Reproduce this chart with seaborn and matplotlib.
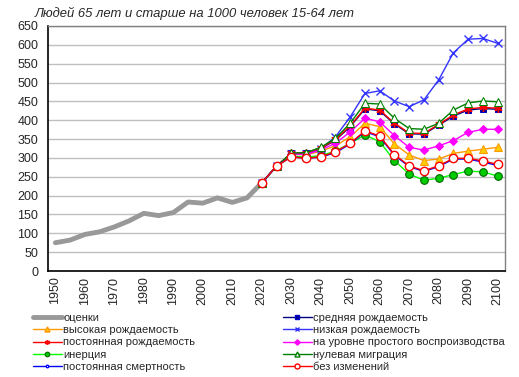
import seaborn as sns
import matplotlib
matplotlib.use('Agg')
import matplotlib.pyplot as plt
from matplotlib.lines import Line2D

sns.set_style('white')
plt.rcParams['font.family'] = ['Liberation Sans', 'DejaVu Sans']

hist_years = list(range(1950, 2021, 5))
hist_vals = [75, 82, 97, 104, 117, 133, 153, 147, 155, 183, 180, 194, 182, 194, 234]

proj_years = list(range(2020, 2101, 5))
medium = [234, 278, 312, 312, 325, 347, 383, 430, 425, 390, 364, 363, 387, 411, 427, 431, 429]
high = [234, 278, 310, 308, 318, 332, 356, 392, 383, 337, 308, 293, 297, 312, 318, 323, 328]
low = [234, 278, 310, 311, 324, 356, 409, 471, 478, 451, 436, 454, 507, 579, 615, 617, 604]
const_fert = [234, 278, 312, 313, 326, 349, 385, 432, 427, 392, 366, 365, 389, 414, 430, 434, 432]
replacement = [234, 278, 311, 309, 321, 339, 369, 405, 396, 359, 328, 321, 332, 346, 368, 376, 376]
inertia = [234, 278, 305, 302, 306, 318, 339, 361, 343, 293, 257, 241, 246, 256, 265, 263, 252]
zero_migr = [234, 278, 313, 314, 328, 352, 392, 445, 443, 405, 378, 376, 392, 427, 446, 451, 449]
const_mort = [234, 278, 303, 299, 302, 314, 337, 370, 356, 307, 277, 264, 277, 297, 297, 289, 280]
no_change = [234, 278, 303, 299, 303, 316, 339, 372, 358, 309, 279, 266, 279, 299, 299, 292, 283]

labels = ['оценки', 'средняя рождаемость', 'высокая рождаемость', 'низкая рождаемость',
          'постоянная рождаемость', 'на уровне простого воспроизводства', 'инерция',
          'нулевая миграция', 'постоянная смертность', 'без изменений']

fig = plt.figure(figsize=(5.19, 3.77), dpi=100)
ax = fig.add_axes([48 / 519, 1 - 271 / 377, 457 / 519, 245 / 377])

styles = [
    (medium, dict(color='#000080', marker='s', ms=5, mfc='#000080', mec='#0000CC')),
    (high, dict(color='#FF9900', marker='^', ms=6, mfc='#FFCC00', mec='#FF9900')),
    (low, dict(color='#3333FF', marker='x', ms=6, mec='#3333FF', mew=1)),
    (const_fert, dict(color='#FF0000', marker=(6, 2, 0), ms=6, mec='#FF0000', mew=1)),
    (replacement, dict(color='#FF00FF', marker='D', ms=4.5, mfc='#FF00FF', mec='#FF00FF')),
    (inertia, dict(color='#00FF00', marker='o', ms=5.5, mfc='#00CC00', mec='#006600', mew=0.8)),
    (zero_migr, dict(color='#008000', marker='^', ms=6, mfc='white', mec='#008000')),
    (const_mort, dict(color='#0000FF', marker='o', ms=3, mfc='white', mec='#0000FF')),
    (no_change, dict(color='#FF0000', marker='o', ms=6, mfc='white', mec='#FF0000', mew=1)),
]

handles = []
sns.lineplot(x=hist_years, y=hist_vals, ax=ax, color='#999999', lw=3.5, solid_capstyle='round')
handles.append(Line2D([], [], color='#999999', lw=3.5))
for vals, st in styles:
    sns.lineplot(x=proj_years, y=vals, ax=ax, lw=1, **st)
    hst = dict(st)
    hst['ms'] = st['ms'] * 0.6
    handles.append(Line2D([], [], lw=1, **hst))

ax.set_xlim(1947.5, 2102.5)
ax.set_ylim(0, 650)
ax.set_yticks(range(0, 651, 50))
ax.set_xticks(range(1950, 2101, 10))
ax.set_xticklabels([str(y) for y in range(1950, 2101, 10)], rotation=90)
ax.tick_params(axis='both', labelsize=9, length=0)
ax.tick_params(axis='y', pad=7)
ax.tick_params(axis='x', pad=4)
ax.grid(axis='y', color='#C0C0C0', lw=1)
ax.set_axisbelow(True)
for s in ['left', 'bottom']:
    ax.spines[s].set_color('black')
    ax.spines[s].set_linewidth(1.2)
for s in ['top', 'right']:
    ax.spines[s].set_color('#808080')
    ax.spines[s].set_linewidth(1)

fig.text(35 / 519, 1 - 13 / 377, 'Людей 65 лет и старше на 1000 человек 15-64 лет',
         fontsize=9.4, style='italic', va='center', ha='left')

col1 = [0, 2, 4, 6, 8]
col2 = [1, 3, 5, 7, 9]
for idx, x0 in [(col1, 33), (col2, 283)]:
    fig.legend([handles[i] for i in idx], [labels[i] for i in idx],
               loc='upper left', bbox_to_anchor=(x0 / 519, 1 - 313 / 377),
               frameon=False, fontsize=8, borderpad=0, borderaxespad=0,
               handlelength=2.6, handletextpad=0.1, labelspacing=0.2)

fig.savefig('out.png', dpi=100)
